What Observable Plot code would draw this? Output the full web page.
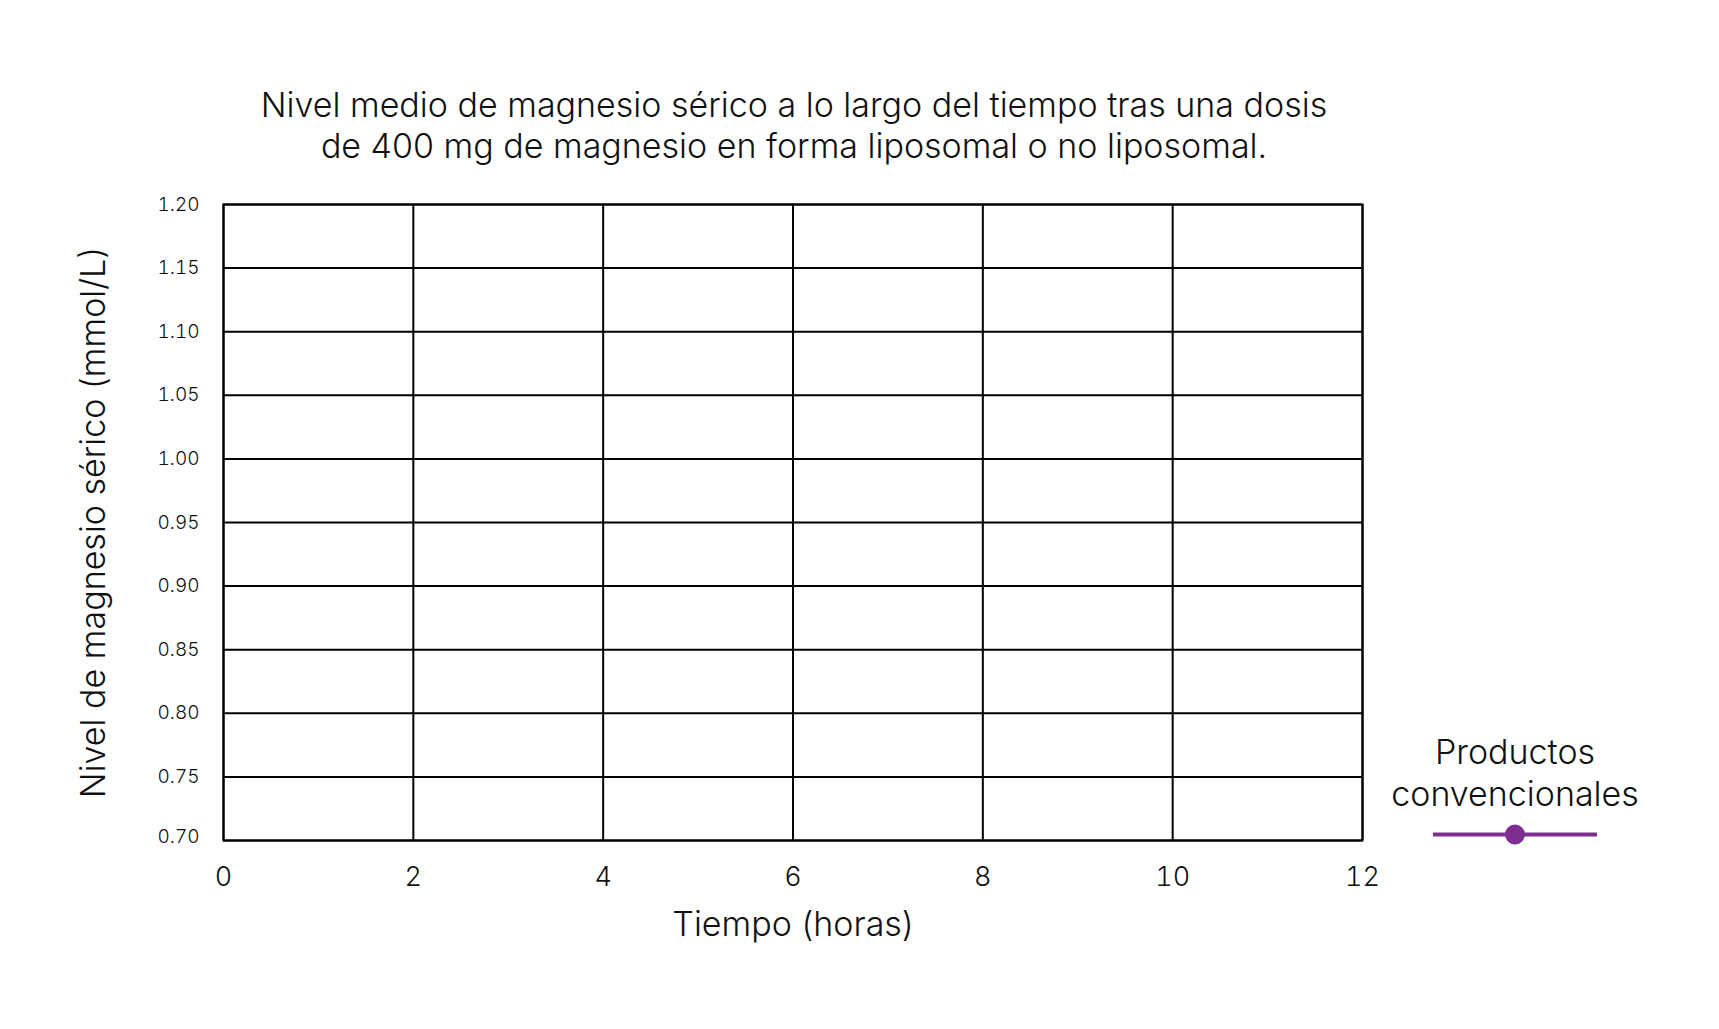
<!DOCTYPE html>
<html>
<head>
<meta charset="utf-8">
<script src="https://cdn.jsdelivr.net/npm/d3@7"></script>
<script src="https://cdn.jsdelivr.net/npm/@observablehq/plot@0.6"></script>
<style>
  html, body { margin: 0; padding: 0; background: #fff; }
  body { font-family: Inter, Roboto, "Noto Sans", sans-serif; color: #111; }
  #page { position: relative; width: 1719px; height: 1029px; }
  #title { height: 170px; position: relative; }
  #title div { position: absolute; left: 0; width: 1588px; top: 84px; text-align: center;
               font-size: 34px; line-height: 41px; font-weight: 300; }
  #legend { position: absolute; left: 1365px; top: 731px; width: 300px; text-align: center;
            font-size: 34px; line-height: 42px; font-weight: 300; }
  #legend svg { display: block; }
  g[aria-label="y-axis label"] text { font-size: 34px; }
  g[aria-label="x-axis label"] text { font-size: 34px; }
  svg text { font-weight: 300; }
</style>
</head>
<body>
<div id="page">
  <div id="title"><div id="titleText"></div></div>
  <div id="chart"></div>
  <div id="legend"></div>
</div>
<script>
// ---- data ----
const titleLines = [
  "Nivel medio de magnesio sérico a lo largo del tiempo tras una dosis",
  "de 400 mg de magnesio en forma liposomal o no liposomal."
];
const xLabel = "Tiempo (horas)";
const yLabel = "Nivel de magnesio sérico (mmol/L)";
const xTicks = [0, 2, 4, 6, 8, 10, 12];
const yTicks = [0.70, 0.75, 0.80, 0.85, 0.90, 0.95, 1.00, 1.05, 1.10, 1.15, 1.20];
const seriesNames = ["Productos convencionales"];
const seriesColors = ["#7d2e8e"];
// the reference shows no plotted points for this series
const convHours = [];
const convLevels = [];

const conv = convHours.map((h, i) => ({hora: h, nivel: convLevels[i], serie: seriesNames[0]}));

document.getElementById("titleText").innerHTML = titleLines.join("<br>");

const fmt = d => d.toFixed(2);
const chart = Plot.plot({
  width: 1719,
  height: 859,
  marginTop: 34,
  marginBottom: 189,
  marginLeft: 223,
  marginRight: 357,
  style: {fontFamily: "Inter, Roboto, sans-serif", color: "#111", background: "#fff"},
  x: {domain: [0, 12]},
  y: {domain: [0.70, 1.20]},
  marks: [
    Plot.gridX(xTicks, {stroke: "#000", strokeOpacity: 1, strokeWidth: 2}),
    Plot.gridY(yTicks, {stroke: "#000", strokeOpacity: 1, strokeWidth: 2}),
    Plot.frame({stroke: "#000", strokeWidth: 2}),
    Plot.axisX(xTicks, {tickSize: 0, tickPadding: 26, fontSize: 27, label: xLabel,
                        labelAnchor: "center", labelArrow: "none", labelOffset: 95}),
    Plot.axisY(yTicks.slice(1), {tickSize: 0, tickPadding: 24, fontSize: 19,
                        tickFormat: fmt, label: yLabel,
                        labelAnchor: "center", labelArrow: "none", labelOffset: 143}),
    Plot.axisY(yTicks.slice(0, 1), {tickSize: 0, tickPadding: 24, fontSize: 19, dy: -4,
                        tickFormat: fmt, label: null}),
    Plot.line(conv, {x: "hora", y: "nivel", stroke: seriesColors[0], strokeWidth: 4}),
    Plot.dot(conv, {x: "hora", y: "nivel", fill: seriesColors[0], r: 10})
  ]
});
document.getElementById("chart").appendChild(chart);

// legend
const lg = document.getElementById("legend");
lg.innerHTML = `<div>Productos<br>convencionales</div>
<svg width="300" height="40"><line x1="68" x2="232" y1="19.5" y2="19.5" stroke="${seriesColors[0]}" stroke-width="4"/>
<circle cx="150" cy="19.5" r="10" fill="${seriesColors[0]}"/></svg>`;
</script>
</body>
</html>
